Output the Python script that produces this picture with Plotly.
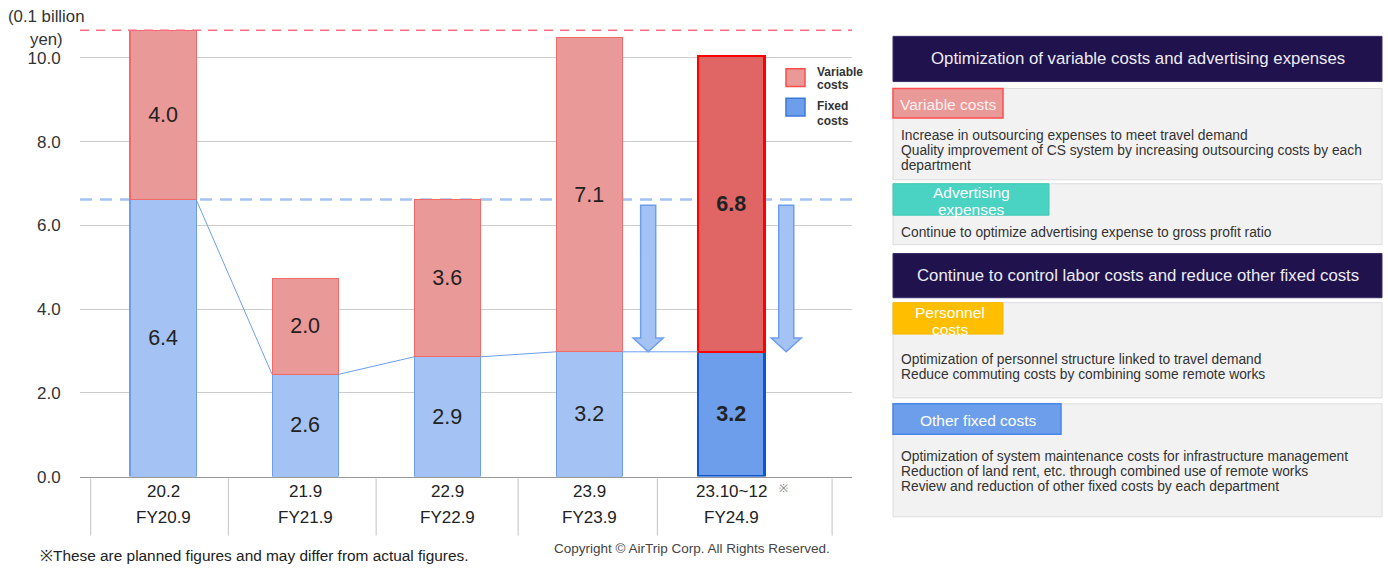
import plotly.graph_objects as go

W, H = 1388, 574

# ---------------- data ----------------
periods = ["20.2", "21.9", "22.9", "23.9", "23.10~12"]
fiscal_years = ["FY20.9", "FY21.9", "FY22.9", "FY23.9", "FY24.9"]
fixed_height = [6.62, 2.44, 2.86, 2.98, 2.98]        # drawn heights (0.1 billion yen)
variable_height = [4.04, 2.30, 3.76, 7.51, 7.07]
fixed_labels = ["6.4", "2.6", "2.9", "3.2", "<b>3.2</b>"]
variable_labels = ["4.0", "2.0", "3.6", "7.1", "<b>6.8</b>"]
y_ticks = [0, 2, 4, 6, 8, 10]
y_tick_text = ["0.0", "2.0", "4.0", "6.0", "8.0", "10.0"]
arrow_x = [3.415, 4.387]
arrow_top = 6.48
separators_x = [-0.51, 0.46, 1.5, 2.5, 3.48, 4.71]

header1 = "Optimization of variable costs and advertising expenses"
header2 = "Continue to control labor costs and reduce other fixed costs"
box_variable_lines = ["Increase in outsourcing expenses to meet travel demand",
                      "Quality improvement of CS system by increasing outsourcing costs by each",
                      "department"]
box_adv_lines = ["Continue to optimize advertising expense to gross profit ratio"]
box_personnel_lines = ["Optimization of personnel structure linked to travel demand",
                       "Reduce commuting costs by combining some remote works"]
box_other_lines = ["Optimization of system maintenance costs for infrastructure management",
                   "Reduction of land rent, etc. through combined use of remote works",
                   "Review and reduction of other fixed costs by each department"]

FONT = "Liberation Sans, Arial, Helvetica, sans-serif"
BAR_W = 0.465
n = len(periods)
xs = list(range(n))


def px(x):
    return x / W


def py(y):
    return 1 - y / H


fig = go.Figure()

fixed_fill = ["#a4c2f4"] * (n - 1) + ["#6d9eeb"]
fixed_line = ["#6d9eeb"] * (n - 1) + ["#1155cc"]
var_fill = ["#ea9999"] * (n - 1) + ["#e06666"]
var_line = ["#f06a6a"] * (n - 1) + ["#ff0000"]
line_w = [1.2] * (n - 1) + [2.5]

fig.add_trace(go.Bar(
    x=xs, y=fixed_height, width=BAR_W, name="Fixed costs",
    marker=dict(color=fixed_fill, line=dict(color=fixed_line, width=line_w)),
    text=fixed_labels, textposition="inside", insidetextanchor="middle",
    textangle=0, constraintext="none",
    textfont=dict(size=21.5, color="#222", family=FONT), hoverinfo="skip"))
fig.add_trace(go.Bar(
    x=xs, y=variable_height, width=BAR_W, name="Variable costs",
    marker=dict(color=var_fill, line=dict(color=var_line, width=line_w)),
    text=variable_labels, textposition="inside", insidetextanchor="middle",
    textangle=0, constraintext="none",
    textfont=dict(size=21.5, color="#222", family=FONT), hoverinfo="skip"))

# connecting lines between tops of fixed bars
lx, ly = [], []
for i in range(n - 1):
    lx += [i + BAR_W / 2, i + 1 - BAR_W / 2, None]
    ly += [fixed_height[i], fixed_height[i + 1], None]
fig.add_trace(go.Scatter(x=lx, y=ly, mode="lines",
                         line=dict(color="#6d9eeb", width=1), hoverinfo="skip"))

shapes = []
x0p, x1p = px(80), px(852)
# dashed reference lines
shapes.append(dict(type="line", xref="paper", yref="y", x0=x0p, x1=x1p,
                   y0=fixed_height[0] + variable_height[0],
                   y1=fixed_height[0] + variable_height[0],
                   line=dict(color="#ff6b81", width=1.5, dash="9px,7px")))
shapes.append(dict(type="line", xref="paper", yref="y", x0=x0p, x1=x1p,
                   y0=fixed_height[0], y1=fixed_height[0],
                   line=dict(color="#a4c2f4", width=2.5, dash="12px,8px"), layer="below"))

# down arrows
hw, HW, head = 0.053, 0.106, 0.33
tip = fixed_height[3]
for ax in arrow_x:
    path = (f"M {ax-hw},{arrow_top} L {ax+hw},{arrow_top} L {ax+hw},{tip+head} "
            f"L {ax+HW},{tip+head} L {ax},{tip} L {ax-HW},{tip+head} "
            f"L {ax-hw},{tip+head} Z")
    shapes.append(dict(type="path", xref="x", yref="y", path=path,
                       fillcolor="#a4c2f4", line=dict(color="#6d9eeb", width=1.5)))

# category separators
for sx in separators_x:
    shapes.append(dict(type="line", xref="x", yref="paper", x0=sx, x1=sx,
                       y0=py(487), y1=py(545), line=dict(color="#cccccc", width=1.2)))

# legend squares
shapes.append(dict(type="rect", xref="paper", yref="paper", x0=px(786), x1=px(805),
                   y0=py(70), y1=py(88), fillcolor="#ea9999",
                   line=dict(color="#ff4c4c", width=1.5)))
shapes.append(dict(type="rect", xref="paper", yref="paper", x0=px(786), x1=px(805),
                   y0=py(100), y1=py(118), fillcolor="#6d9eeb",
                   line=dict(color="#3c78d8", width=1.5)))

annotations = []


def ann(text, x, y, size, color="#222", xanchor="center", bold=False, **kw):
    if bold:
        text = f"<b>{text}</b>"
    annotations.append(dict(text=text, x=px(x), y=py(y), xref="paper", yref="paper",
                            xanchor=xanchor, yanchor="middle", showarrow=False,
                            font=dict(size=size, color=color, family=FONT), **kw))


# y-axis title
ann("(0.1 billion", 46, 17, 16.8, "#333")
ann("yen)", 46, 40, 16.8, "#333")

# category labels
for i in range(n):
    annotations.append(dict(text=periods[i], x=i, y=py(500), xref="x", yref="paper",
                            showarrow=False, yanchor="middle",
                            font=dict(size=17, color="#222", family=FONT)))
    annotations.append(dict(text=fiscal_years[i], x=i, y=py(527), xref="x", yref="paper",
                            showarrow=False, yanchor="middle",
                            font=dict(size=17, color="#222", family=FONT)))
ann("※", 783, 497, 11, "#777")

# legend text
ann("Variable", 815, 73, 12, "#333", xanchor="left", bold=True)
ann("costs", 815, 87, 12, "#333", xanchor="left", bold=True)
ann("Fixed", 815, 108, 12, "#333", xanchor="left", bold=True)
ann("costs", 815, 123, 12, "#333", xanchor="left", bold=True)

# footnotes
ann("※These are planned figures and may differ from actual figures.", 38, 565, 15.4,
    "#222", xanchor="left")
ann("Copyright © AirTrip Corp. All Rights Reserved.", 552, 558, 13.5, "#444",
    xanchor="left")

# ---------------- right panel ----------------
RX0, RX1 = 893, 1382


def rect(x0, y0, x1, y1, fill, line, lw=1):
    shapes.append(dict(type="rect", xref="paper", yref="paper", x0=px(x0), x1=px(x1),
                       y0=py(y1), y1=py(y0), fillcolor=fill, line=dict(color=line, width=lw)))


NAVY = "#20124d"
rect(RX0, 37, RX1, 83, NAVY, "#3a2d6a")
ann(header1, (RX0 + RX1) / 2, 60, 16.8, "#ececf4")
rect(RX0, 90, RX1, 183, "#f2f2f2", "#dcdcdc")
rect(RX0, 187, RX1, 249, "#f2f2f2", "#dcdcdc")
rect(RX0, 258, RX1, 303, NAVY, "#3a2d6a")
ann(header2, (RX0 + RX1) / 2, 280, 16.8, "#ececf4")
rect(RX0, 308, RX1, 405, "#f2f2f2", "#dcdcdc")
rect(RX0, 411, RX1, 526, "#f2f2f2", "#dcdcdc")

# tags
rect(RX0, 90, 1003, 120, "#ea9999", "#ff4c4c", 1.5)
ann("Variable costs", 948, 106, 15.5, "#fdf0f0")
rect(RX0, 187, 1049, 219, "#4ad2c2", "#40c8b8")
ann("Advertising", 971, 196, 15.5, "#ffffff")
ann("expenses", 971, 213, 15.5, "#ffffff")
rect(RX0, 308, 1003, 340, "#ffbf00", "#f5b800")
ann("Personnel", 950, 318, 15.5, "#ffffff")
ann("costs", 950, 335, 15.5, "#ffffff")
rect(RX0, 411, 1061, 442, "#6d9eeb", "#4a86e8", 1.5)
ann("Other fixed costs", 978, 428, 15.5, "#ffffff")

# body text lines
for lines, y_start in [(box_variable_lines, 138), (box_adv_lines, 237),
                       (box_personnel_lines, 366), (box_other_lines, 465)]:
    for k, line in enumerate(lines):
        ann(line, 899, y_start + 15.2 * k, 13.8, "#333", xanchor="left")

fig.update_layout(
    width=W, height=H, autosize=False,
    margin=dict(l=0, r=0, t=0, b=0, pad=0),
    paper_bgcolor="white", plot_bgcolor="white",
    barmode="stack", showlegend=False,
    shapes=shapes, annotations=annotations,
    font=dict(family=FONT),
    xaxis=dict(domain=[px(80), px(852)], range=[-0.585, 4.85], showgrid=False,
               zeroline=False, showticklabels=False, ticks="",
               showline=True, linecolor="#999999", linewidth=1.2, fixedrange=True),
    yaxis=dict(domain=[py(485), 1], range=[0, 485 / 42.6], tickvals=y_ticks,
               ticktext=y_tick_text, showgrid=True, gridcolor="#cccccc", gridwidth=1,
               zeroline=False, ticks="outside", ticklen=15, tickcolor="rgba(0,0,0,0)",
               tickfont=dict(size=17, color="#333", family=FONT), fixedrange=True),
)

fig.write_html("out.html", config={"responsive": False, "displayModeBar": False})
